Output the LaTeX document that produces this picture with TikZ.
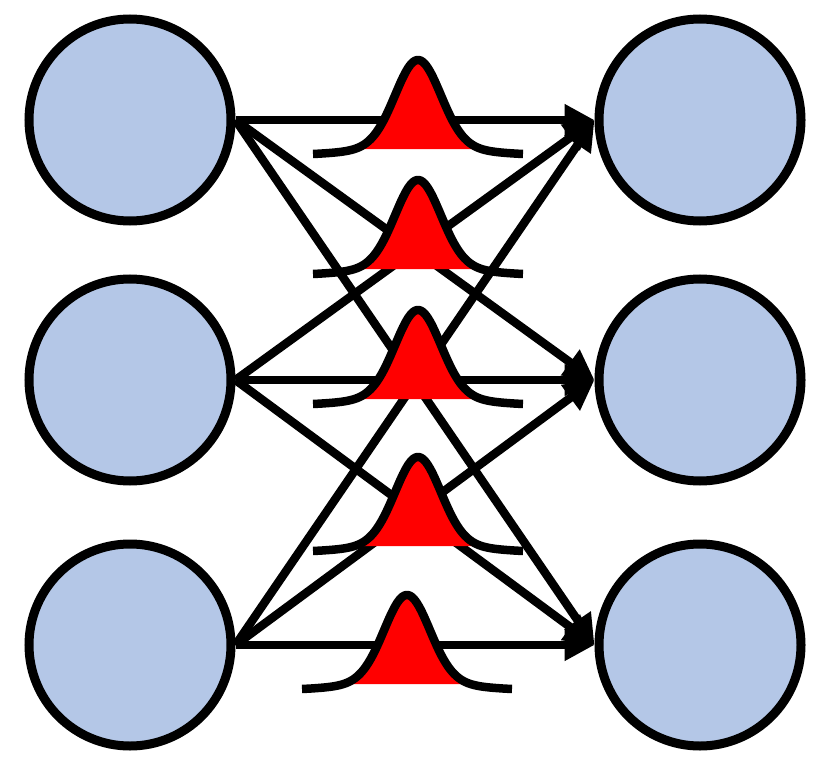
\documentclass[tikz,border=0pt]{standalone}
\usetikzlibrary{arrows.meta}
\definecolor{nodeblue}{HTML}{B4C7E7}
\begin{document}
\begin{tikzpicture}[x=1pt,y=-1pt,
  neuron/.style={circle,draw=black,line width=9pt,fill=nodeblue,minimum size=202pt,inner sep=0pt},
  conn/.style={line width=8.5pt,-{Triangle[length=30pt,width=30pt]}},
  bell/.style={line width=8.5pt,line cap=butt}]
\useasboundingbox (0,0) rectangle (832,770);
\node[neuron] (L1) at (130,120) {};
\node[neuron] (L2) at (130,380) {};
\node[neuron] (L3) at (130,645) {};
\node[neuron] (R1) at (700,120) {};
\node[neuron] (R2) at (700,380) {};
\node[neuron] (R3) at (700,645) {};
\foreach \i in {1,2,3}{
  \foreach \j in {1,2,3}{
    \draw[conn] (L\i.east) -- (R\j.west);
  }
}
\foreach \cx/\cy in {418/155,418/275,418/405,418/552,407/690}{
  \fill[red] plot[domain=-72:72,samples=80] ({\cx+\x},{\cy-97*(0.8*exp(-(\x/32)^2)+0.2/(1+(\x/45)^2))}) -- cycle;
  \draw[bell] plot[domain=-105:105,samples=120] ({\cx+\x},{\cy+2-97*(0.8*exp(-(\x/32)^2)+0.2/(1+(\x/45)^2))});
}
\end{tikzpicture}
\end{document}
